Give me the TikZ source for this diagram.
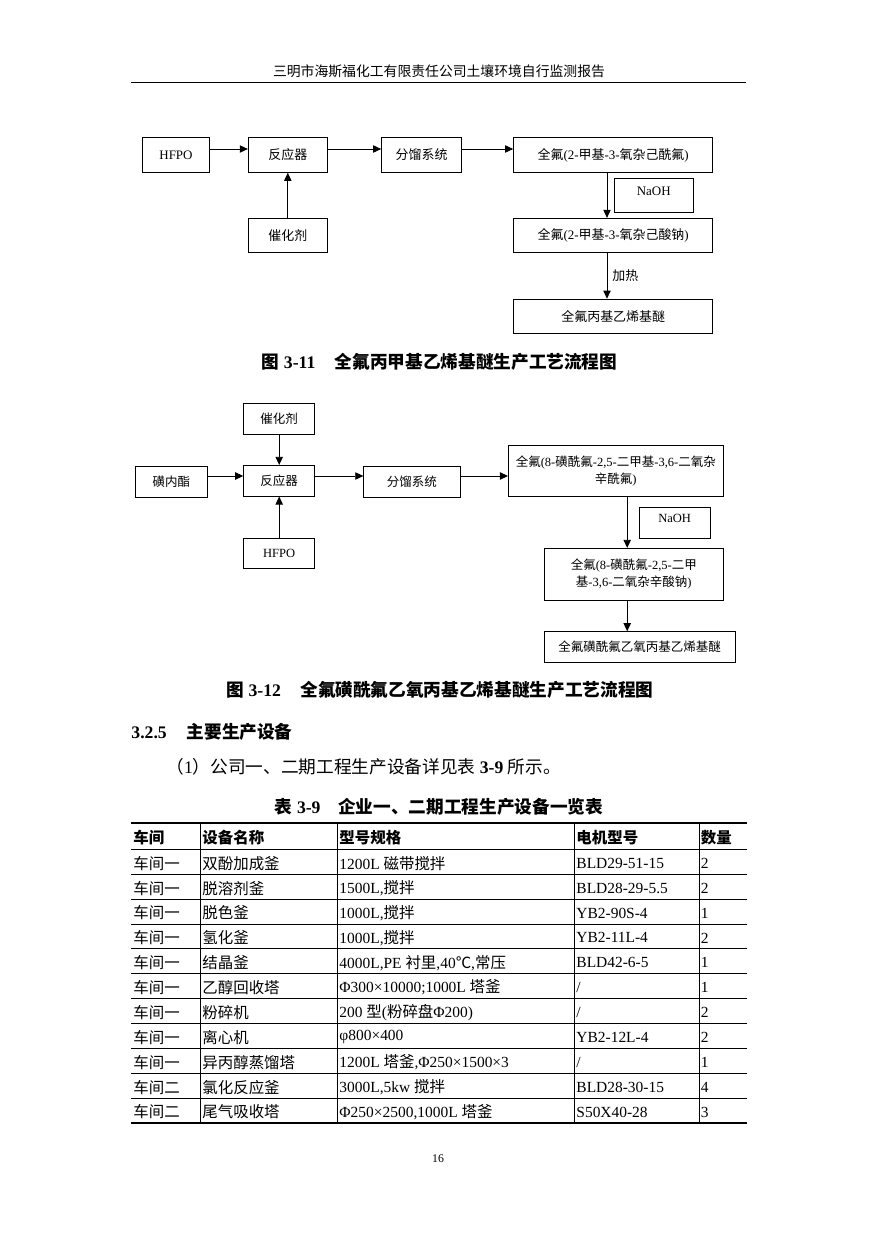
\documentclass[tikz,border=0pt]{standalone}
\usepackage{fontspec}
\setmainfont{Liberation Serif}
\newfontfamily\cjkfont{Noto Sans CJK SC}
\usetikzlibrary{arrows.meta, calc, positioning}

% Han characters and full-width punctuation go to the CJK face
\XeTeXinterchartokenstate=1
\newXeTeXintercharclass\cjkcls
\newcount\cjkcnt
\def\setcjkrange#1#2{\cjkcnt=#1\relax
  \loop\XeTeXcharclass\cjkcnt=\cjkcls
    \advance\cjkcnt by 1
  \ifnum\cjkcnt<#2\relax\repeat}
\setcjkrange{"3000}{"3040}
\setcjkrange{"4E00}{"A000}
\setcjkrange{"FF00}{"FFF0}
\XeTeXcharclass"2103=\cjkcls
\XeTeXinterchartoks 0 \cjkcls = {\cjkfont}
\XeTeXinterchartoks 4095 \cjkcls = {\cjkfont}
\XeTeXinterchartoks \cjkcls 0 = {\rmfamily}
\XeTeXinterchartoks \cjkcls 4095 = {\rmfamily}

% one pixel of the page
\newdimen\pxu
\pxu=0.6796pt

\begin{document}
\begin{tikzpicture}[
    x=0.6796pt, y=-0.6796pt,
    >={Triangle[length=5.5pt,width=5pt]},
    line width=0.6pt,
    procbox/.style 2 args={draw, minimum width=#1*\pxu, minimum height=#2*\pxu,
                           inner sep=1pt, align=center},
    arr/.style={->},
    cell/.style={anchor=west, inner sep=0pt},
]
\useasboundingbox[fill=white] (0,0) rectangle (876,1240);

%------------------------------------------------------------
% Running head
%------------------------------------------------------------
\node[font=\fontsize{9.4}{11}\selectfont] (head) at (439,71.7)
    {三明市海斯福化工有限责任公司土壤环境自行监测报告};
\draw[line width=0.9pt] (131,82.3) -- (746,82.3);

%============================================================
%  Figure 3-11
%============================================================
\begin{scope}[font=\fontsize{8.8}{11}\selectfont]
\coordinate (rowA) at (0,149);   % height of the feed arrows
\coordinate (colA) at (607,0);   % x of the down arrows

\node[procbox={66.6}{34.6}]  (hfpoA) at (176,155)   {HFPO};
\node[procbox={79}{34.6}]    (rxA)   at (287.8,155) {反应器};
\node[procbox={80}{34.6}]    (distA) at (421.6,155) {分馏系统};
\node[procbox={199.2}{34.6}] (acfA)  at (613.2,155) {全氟(2-甲基-3-氧杂己酰氟)};
\node[procbox={79}{34.4}]    (catA)  at (287.8,235.5) {催化剂};

% NaOH box, text sits near its top
\node[procbox={78.5}{34.4}]  (naohA) at (653.7,195.5) {};
\node (naohAt) at ($(naohA.north)+(0,13.4)$) {NaOH};

\node[procbox={199.2}{34.4}] (saltA)  at (613.2,235.5) {全氟(2-甲基-3-氧杂己酸钠)};
\node[procbox={199.2}{34.1}] (finalA) at (613.2,316.2) {全氟丙基乙烯基醚};

% --- connectors ---
\draw[arr] (hfpoA.east |- rowA) -- (rxA.west |- rowA);
\draw[arr] (rxA.east |- rowA)   -- (distA.west |- rowA);
\draw[arr] (distA.east |- rowA) -- (acfA.west |- rowA);
\draw[arr] (catA) -- (rxA);
\draw[arr] (acfA.south -| colA)  -- (saltA.north -| colA);
\draw[arr] (saltA.south -| colA) -- node[right] {加热} (finalA.north -| colA);
\end{scope}

\node[font=\bfseries\fontsize{12}{14}\selectfont] (capA) at (439.6,361.7)
    {图 3-11\hspace{1.1em}全氟丙甲基乙烯基醚生产工艺流程图};

%============================================================
%  Figure 3-12
%============================================================
\begin{scope}[font=\fontsize{8.5}{11.5}\selectfont]
\coordinate (rowB) at (0,476);
\coordinate (colB) at (627.2,0);

\node[procbox={70.9}{30.7}]  (catB)  at (279.2,418.7) {催化剂};
\node[procbox={71.8}{31.3}]  (sulB)  at (171.4,481.7) {磺内酯};
\node[procbox={70.9}{30.7}]  (rxB)   at (279.2,480.7) {反应器};
\node[procbox={70.9}{30}]    (hfpoB) at (279.2,553.3) {HFPO};
\node[procbox={96.2}{31.3}]  (distB) at (411.9,481.7) {分馏系统};
\node[procbox={214.7}{50.3}] (acfB)  at (615.8,470.9)
    {全氟(8-磺酰氟-2,5-二甲基-3,6-二氧杂\\辛酰氟)};

\node[procbox={71.4}{30.6}]  (naohB) at (674.7,523) {};
\node (naohBt) at ($(naohB.north)+(0,11.3)$) {NaOH};

\node[procbox={179.5}{51.7}] (saltB)  at (633.8,574.2)
    {全氟(8-磺酰氟-2,5-二甲\\基-3,6-二氧杂辛酸钠)};
\node[procbox={191.4}{30.6}] (finalB) at (639.7,647) {全氟磺酰氟乙氧丙基乙烯基醚};

% --- connectors ---
\draw[arr] (sulB.east |- rowB)  -- (rxB.west |- rowB);
\draw[arr] (rxB.east |- rowB)   -- (distB.west |- rowB);
\draw[arr] (distB.east |- rowB) -- (acfB.west |- rowB);
\draw[arr] (catB)  -- (rxB);
\draw[arr] (hfpoB) -- (rxB);
\draw[arr] (acfB.south -| colB)  -- (saltB.north -| colB);
\draw[arr] (saltB.south -| colB) -- (finalB.north -| colB);
\end{scope}

\node[font=\bfseries\fontsize{12}{14}\selectfont] (capB) at (440,690)
    {图 3-12\hspace{1.1em}全氟磺酰氟乙氧丙基乙烯基醚生产工艺流程图};

%============================================================
%  Section text
%============================================================
\node[cell, font=\bfseries\fontsize{12}{14}\selectfont] (sec) at (131,731.7)
    {3.2.5\hspace{1.13em}主要生产设备};
\node[cell, font=\fontsize{12}{14}\selectfont] (para) at (166,766.7)
    {（1）公司一、二期工程生产设备详见表 \textbf{3-9} 所示。};
\node[font=\bfseries\fontsize{12}{14}\selectfont] (capT) at (439,806.7)
    {表 3-9\hspace{1em}企业一、二期工程生产设备一览表};

%============================================================
%  Table 3-9
%============================================================
\def\Ytop{823.3}   % top rule
\def\Yhd{849.3}    % under the header row
\def\Dy{24.88}     % row pitch
\def\Ybot{1122.7}  % bottom rule
\def\Xl{131}
\def\Xr{746.5}

\draw[line width=1.4pt] (\Xl,\Ytop) -- (\Xr,\Ytop);
\foreach \k in {0,...,10}
    \draw[line width=0.5pt] (\Xl,\Yhd+\k*\Dy) -- (\Xr,\Yhd+\k*\Dy);
\draw[line width=1.6pt] (\Xl,\Ybot) -- (\Xr,\Ybot);
\foreach \x in {200.7,337.6,574.7,699.5}
    \draw[line width=0.5pt] (\x,\Ytop) -- (\x,\Ybot);

% header row
\foreach \x/\t [count=\j] in {133/车间, 202/设备名称, 339/型号规格, 576/电机型号, 700.5/数量}
    \node[cell, font=\bfseries\fontsize{10.5}{12}\selectfont] (hd\j) at (\x,838) {\t};

% body rows
\begin{scope}[font=\fontsize{10.5}{12}\selectfont]
\foreach \a/\b/\c/\d/\e [count=\i] in {
    车间一/双酚加成釜/1200L 磁带搅拌/BLD29-51-15/2,
    车间一/脱溶剂釜/{1500L,搅拌}/BLD28-29-5.5/2,
    车间一/脱色釜/{1000L,搅拌}/YB2-90S-4/1,
    车间一/氢化釜/{1000L,搅拌}/YB2-11L-4/2,
    车间一/结晶釜/{4000L,PE 衬里,40℃,常压}/BLD42-6-5/1,
    车间一/乙醇回收塔/{Φ300×10000;1000L 塔釜}/{/}/1,
    车间一/粉碎机/{200 型(粉碎盘Φ200)}/{/}/2,
    车间一/离心机/{φ800×400}/YB2-12L-4/2,
    车间一/异丙醇蒸馏塔/{1200L 塔釜,Φ250×1500×3}/{/}/1,
    车间二/氯化反应釜/{3000L,5kw 搅拌}/BLD28-30-15/4,
    车间二/尾气吸收塔/{Φ250×2500,1000L 塔釜}/S50X40-28/3}{
    \pgfmathsetmacro\yy{\Yhd+(\i-0.5)*\Dy+1.5}
    \node[cell] (r\i-1) at (133,\yy)   {\a};
    \node[cell] (r\i-2) at (202,\yy)   {\b};
    \node[cell] (r\i-3) at (339,\yy)   {\c};
    \node[cell] (r\i-4) at (576,\yy)   {\d};
    \node[cell] (r\i-5) at (700.5,\yy) {\e};
}
\end{scope}

% page number
\node[font=\fontsize{8}{10}\selectfont] (pgno) at (438,1158.3) {16};

\end{tikzpicture}
\end{document}
